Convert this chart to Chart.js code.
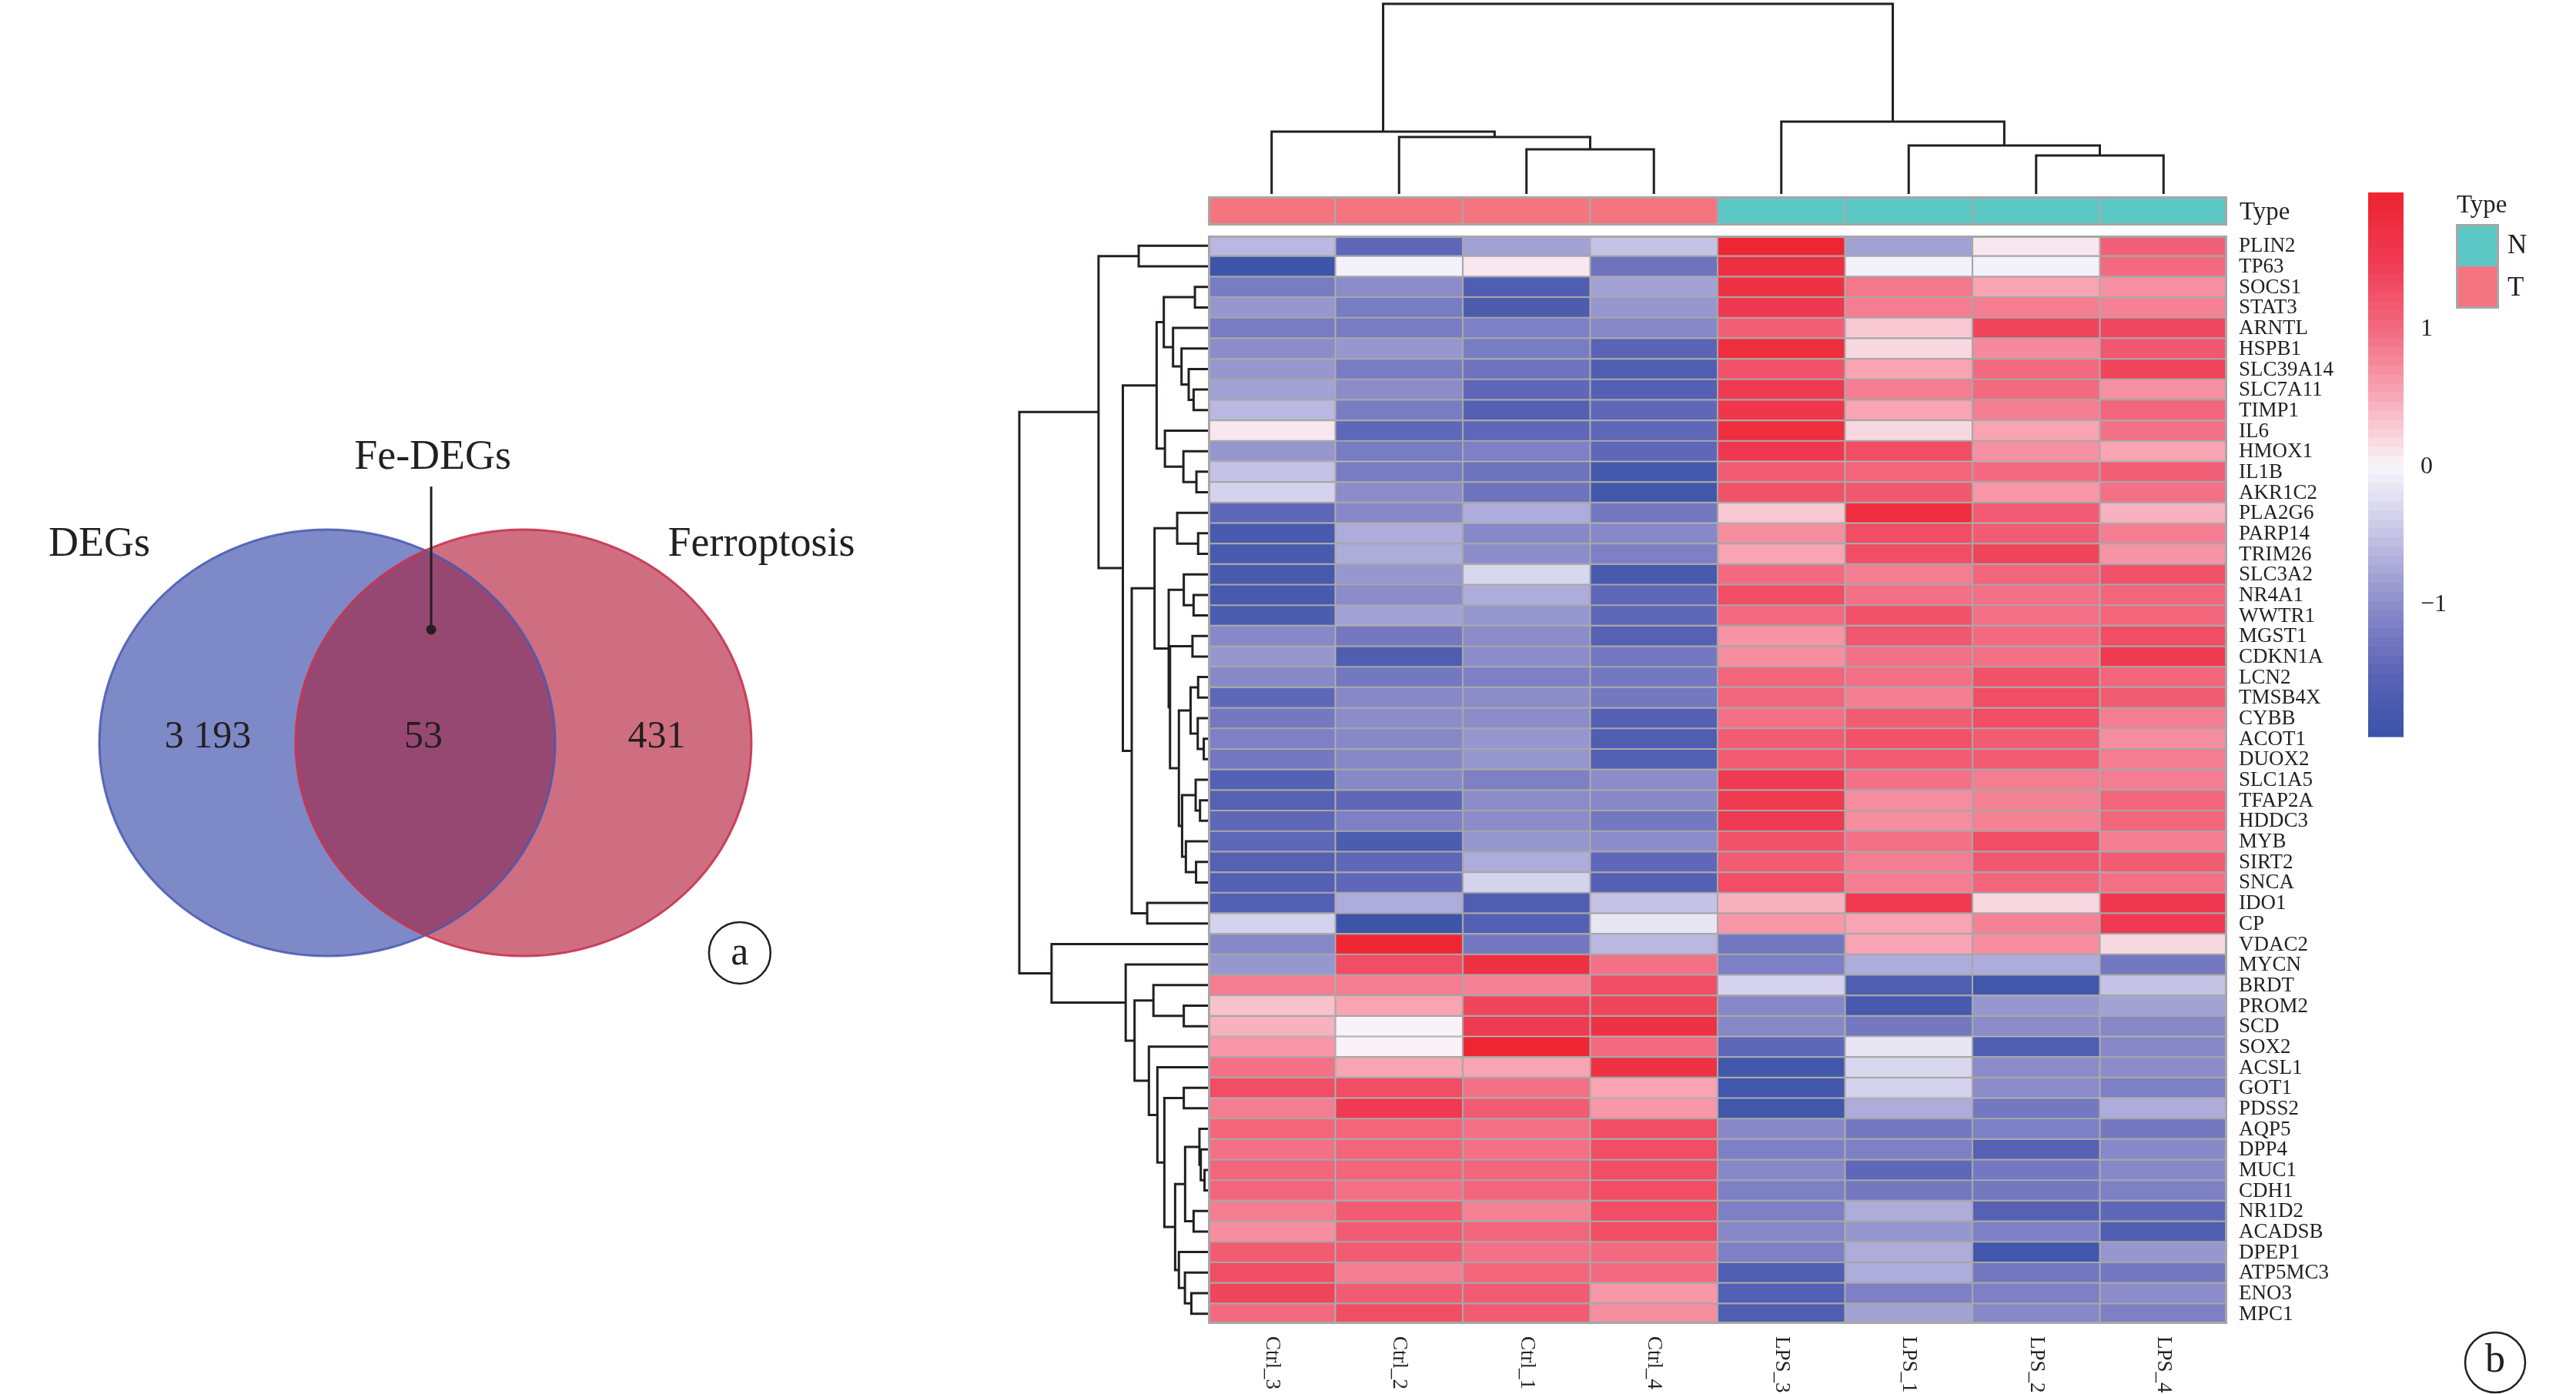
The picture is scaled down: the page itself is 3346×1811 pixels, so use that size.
<!DOCTYPE html>
<html>
<head>
<meta charset="utf-8">
<script src="https://cdn.jsdelivr.net/npm/chart.js@4.4.1/dist/chart.umd.min.js"></script>
<style>
html,body{margin:0;padding:0;background:#ffffff;}
body{width:3346px;height:1811px;position:relative;overflow:hidden;}
canvas{position:absolute;}
</style>
</head>
<body>
<canvas id="venn" width="1150" height="1000" style="left:0px;top:400px;"></canvas>
<canvas id="coldend" width="1344" height="262" style="left:1559px;top:0px;"></canvas>
<canvas id="rowdend" width="280" height="1434" style="left:1300px;top:296px;"></canvas>
<canvas id="annot" width="1441" height="58" style="left:1559px;top:245px;"></canvas>
<canvas id="heat" width="1787" height="1515" style="left:1559px;top:296px;"></canvas>
<canvas id="cbar" width="306" height="810" style="left:3040px;top:200px;"></canvas>
<script>
// ---------------- DATA ----------------
// Venn diagram
const vennSets = ['DEGs', 'Ferroptosis'];
const vennCounts = [3193, 53, 431];      // DEGs only, both, Ferroptosis only
const vennIntersectName = 'Fe-DEGs';

// Heatmap
const samples = ['Ctrl_3','Ctrl_2','Ctrl_1','Ctrl_4','LPS_3','LPS_1','LPS_2','LPS_4'];
const sampleType = ['T','T','T','T','N','N','N','N'];
const typeLevels = ['N','T'];
const genes = ['PLIN2','TP63','SOCS1','STAT3','ARNTL','HSPB1','SLC39A14','SLC7A11','TIMP1','IL6',
 'HMOX1','IL1B','AKR1C2','PLA2G6','PARP14','TRIM26','SLC3A2','NR4A1','WWTR1','MGST1',
 'CDKN1A','LCN2','TMSB4X','CYBB','ACOT1','DUOX2','SLC1A5','TFAP2A','HDDC3','MYB',
 'SIRT2','SNCA','IDO1','CP','VDAC2','MYCN','BRDT','PROM2','SCD','SOX2',
 'ACSL1','GOT1','PDSS2','AQP5','DPP4','MUC1','CDH1','NR1D2','ACADSB','DPEP1',
 'ATP5MC3','ENO3','MPC1'];

const ctrl3 = [-0.6,-1.9,-1.2,-0.9,-1.2,-1.0,-0.9,-0.8,-0.6,0.1,-0.9,-0.5,-0.35,-1.45,-1.75,-1.75,-1.75,-1.75,-1.7,-1.05,-0.9,-1.05,-1.45,-1.25,-1.15,-1.25,-1.6,-1.55,-1.45,-1.45,-1.55,-1.6,-1.6,-0.35,-1.05,-0.9,0.85,0.35,0.45,0.65,0.95,1.3,0.85,1.05,0.95,1.05,1.05,0.85,0.72,1.15,1.3,1.4,1.0];
const ctrl2 = [-1.45,-0.05,-1.0,-1.2,-1.2,-0.9,-1.2,-1.0,-1.2,-1.45,-1.2,-1.2,-1.0,-1.05,-0.7,-0.7,-0.9,-1.0,-0.8,-1.25,-1.65,-1.25,-1.05,-1.0,-1.05,-1.05,-1.05,-1.45,-1.15,-1.7,-1.45,-1.45,-0.7,-1.9,1.95,1.3,0.85,0.55,0.03,0.03,0.55,1.3,1.5,1.05,1.05,1.05,0.95,1.15,1.15,1.15,0.85,1.15,1.3];
const ctrl1 = [-0.8,0.1,-1.65,-1.7,-1.15,-1.2,-1.3,-1.45,-1.6,-1.45,-1.15,-1.3,-1.3,-0.7,-1.05,-1.0,-0.3,-0.7,-0.9,-1.0,-1.0,-1.15,-1.0,-1.0,-0.9,-0.9,-1.15,-1.0,-1.0,-0.9,-0.7,-0.35,-1.65,-1.6,-1.25,1.7,0.82,1.4,1.5,1.95,0.55,0.95,1.15,0.95,0.95,1.05,1.05,0.82,1.05,0.95,1.05,1.15,1.15];
const ctrl4 = [-0.5,-1.3,-0.8,-0.9,-1.05,-1.5,-1.65,-1.6,-1.45,-1.45,-1.45,-1.8,-1.85,-1.25,-1.05,-1.15,-1.75,-1.45,-1.45,-1.55,-1.25,-1.25,-1.25,-1.6,-1.65,-1.6,-1.0,-1.05,-1.25,-1.0,-1.45,-1.6,-0.5,-0.15,-0.6,0.95,1.3,1.4,1.7,1.0,1.7,0.55,0.65,1.3,1.3,1.3,1.3,1.3,1.3,1.0,1.0,0.65,0.72];
const lps3 = [1.95,1.75,1.7,1.55,1.1,1.8,1.25,1.5,1.6,1.8,1.55,1.15,1.25,0.3,0.72,0.55,1.0,1.3,1.0,0.68,0.72,1.05,1.05,0.95,1.15,1.15,1.5,1.5,1.5,1.25,1.15,1.3,0.45,0.65,-1.25,-1.15,-0.35,-1.05,-1.05,-1.45,-1.85,-1.85,-1.85,-1.05,-1.15,-1.05,-1.15,-1.15,-1.05,-1.15,-1.65,-1.6,-1.65];
const lps1 = [-0.8,-0.05,0.9,0.85,0.3,0.2,0.55,0.85,0.55,0.2,1.3,1.05,1.2,1.8,1.3,1.3,0.85,0.95,1.25,1.2,0.95,0.95,0.85,1.15,1.25,1.15,0.95,0.72,0.72,0.95,0.85,0.85,1.5,0.55,0.55,-0.7,-1.65,-1.75,-1.25,-0.15,-0.3,-0.35,-0.7,-1.25,-1.15,-1.45,-1.25,-0.7,-0.9,-0.7,-0.7,-1.15,-0.8];
const lps2 = [0.1,-0.05,0.55,0.85,1.4,0.75,1.0,1.0,0.85,0.55,0.7,1.0,0.65,1.15,1.15,1.4,1.05,0.95,0.95,1.0,0.95,1.25,1.3,1.3,1.15,1.15,0.85,0.82,0.82,1.3,1.2,1.05,0.2,0.82,0.72,-0.7,-1.85,-0.9,-1.0,-1.65,-1.0,-1.0,-1.25,-1.15,-1.55,-1.25,-1.25,-1.55,-1.15,-1.85,-1.25,-1.15,-1.05];
const lps4 = [1.1,1.0,0.7,0.82,1.35,1.2,1.4,0.7,1.05,0.95,0.55,1.1,0.95,0.45,0.85,0.68,1.25,1.05,1.05,1.3,1.5,1.05,1.15,0.85,0.72,0.85,0.85,1.05,1.05,0.85,1.15,0.95,1.55,1.5,0.2,-1.25,-0.5,-0.8,-1.05,-1.05,-1.0,-1.15,-0.7,-1.25,-1.05,-1.05,-1.15,-1.45,-1.65,-0.9,-1.25,-1.0,-1.15];
const sampleSeries = [ctrl3, ctrl2, ctrl1, ctrl4, lps3, lps1, lps2, lps4];

// colour key range and ticks
const keyMin = -1.96, keyMax = 1.99;
const keyTicks = [-1, 0, 1];

// dendrograms: [height, left, right]; numbers are leaf indices
const colTree = [100, [32.8, 0, [30.0, 1, [23.5, 2, 3]]], [38.1, 4, [25.5, 5, [20.2, 6, 7]]]];
const rowTree =
[100,
  [58.0,
    [36.7, 0, 1],
    [45.1,
      [27.2,
        [23.4, [6.9, 2, 3], [18.5, 4, [14.0, 5, [10.2, 6, [7.6, 7, 8]]]]],
        [22.8, 9, [13.0, 10, [6.1, 11, 12]]]
      ],
      [40.4,
        [28.3,
          [16.3, 13, [5.2, 14, 15]],
          [20.8,
            [12.8, 16, [7.6, 17, 18]],
            [20.1,
              [8.2, 19, 20],
              [15.4,
                [9.2, [5.2, 21, 22], [5.4, 23, [2.2, 24, 25]]],
                [13.7, [6.5, 26, [4.2, 27, 28]], [11.7, 29, [6.3, 30, 31]]]
              ]
            ]
          ]
        ],
        [32.2, 32, 33]
      ]
    ]
  ],
  [82.9, 34,
    [43.6, 35,
      [38.9,
        [28.9, 36, [12.8, 37, 38]],
        [31.3, 39,
          [26.8, 40,
            [23.1,
              [12.8, 41, 42],
              [17.4,
                [12.1, [4.5, 43, [3.8, 44, [1.8, 45, 46]]], [7.6, 47, 48]],
                [15.4, 49, [12.2, 50, [8.8, 51, 52]]]
              ]
            ]
          ]
        ]
      ]
    ]
  ]
];

// ---------------- STYLE ----------------
const FONT = "'Liberation Serif','Times New Roman',serif";
const INK = '#231F20';
const GRID = '#A7A7A7';
const typeColors = {N: '#5CC8C5', T: '#F47480'};
const keyStops = [[-1.96,[57,83,167]],[-1.5,[90,99,182]],[-1.0,[140,140,202]],[-0.5,[197,194,229]],
  [0,[248,246,251]],[0.5,[248,170,184]],[1.0,[243,106,128]],[1.5,[239,58,82]],[1.99,[238,36,48]]];

function colorFor(v){
  if (v <= keyStops[0][0]) return 'rgb(' + keyStops[0][1].join(',') + ')';
  for (let k = 1; k < keyStops.length; k++){
    const [v1, c1] = keyStops[k];
    if (v <= v1){
      const [v0, c0] = keyStops[k-1];
      const t = (v - v0) / (v1 - v0);
      const c = c0.map((a, j) => Math.round(a + (c1[j] - a) * t));
      return 'rgb(' + c.join(',') + ')';
    }
  }
  return 'rgb(' + keyStops[keyStops.length-1][1].join(',') + ')';
}

function baseOptions(extra){
  return Object.assign({
    responsive:false, animation:false, devicePixelRatio:1, events:[],
    plugins:{legend:{display:false}, tooltip:{enabled:false}}
  }, extra);
}

function layoutTree(node, leafPos, segs){
  if (typeof node === 'number') return {pos: leafPos(node), h: 0};
  const [h, a, b] = node;
  const A = layoutTree(a, leafPos, segs), B = layoutTree(b, leafPos, segs);
  segs.push([[A.h, A.pos],[h, A.pos],[h, B.pos],[B.h, B.pos]]);
  return {pos: (A.pos + B.pos) / 2, h: h};
}
function lineDs(points){
  return {data: points, showLine:true, pointRadius:0, borderColor:INK, borderWidth:3,
          tension:0, clip:false, borderJoinStyle:'miter', borderCapStyle:'butt'};
}
function fmtCount(n){ return String(n).replace(/\B(?=(\d{3})+(?!\d))/g, ' '); }

// ---------------- VENN ----------------
const vennCenters = [0, 0.861];
new Chart(document.getElementById('venn'), {
  type:'scatter', data:{datasets:[]},
  options: baseOptions({layout:{padding:0},
    scales:{x:{display:false, min:-1.436, max:2.449}, y:{display:false, min:-1.570, max:2.040}}}),
  plugins:[{id:'venn', afterDraw(chart){
    const c = chart.ctx, xs = chart.scales.x, ys = chart.scales.y;
    const px = v => xs.getPixelForValue(v), py = v => ys.getPixelForValue(v);
    const rx = px(1) - px(0), ry = py(0) - py(1);
    const L = {x:px(vennCenters[0]), y:py(0)}, R = {x:px(vennCenters[1]), y:py(0)};
    const ell = p => { c.beginPath(); c.ellipse(p.x, p.y, rx, ry, 0, 0, Math.PI*2); };
    c.save();
    ell(L); c.fillStyle = '#7E89C7'; c.fill();
    ell(R); c.fillStyle = '#CF6E80'; c.fill();
    c.save(); ell(L); c.clip(); ell(R); c.fillStyle = '#974872'; c.fill(); c.restore();
    c.lineWidth = 3;
    ell(L); c.strokeStyle = 'rgba(70,88,178,0.85)'; c.stroke();
    ell(R); c.strokeStyle = 'rgba(200,52,80,0.9)'; c.stroke();
    c.fillStyle = INK; c.textAlign = 'center'; c.textBaseline = 'middle';
    c.font = '50px ' + FONT;
    c.fillText(fmtCount(vennCounts[0]), px(-0.524), py(0.025));
    c.fillText(fmtCount(vennCounts[1]), px(0.422), py(0.025));
    c.fillText(fmtCount(vennCounts[2]), px(1.446), py(0.025));
    c.font = '54px ' + FONT;
    c.fillText(vennSets[0], px(-1.0), py(0.93));
    c.fillText(vennSets[1], px(1.905), py(0.93));
    c.fillText(vennIntersectName, px(0.463), py(1.335));
    // pointer line
    c.strokeStyle = INK; c.lineWidth = 3;
    c.beginPath(); c.moveTo(px(0.456), py(1.202)); c.lineTo(px(0.456), py(0.531)); c.stroke();
    c.beginPath(); c.arc(px(0.456), py(0.531), 6.5, 0, Math.PI*2); c.fill();
    // panel letter
    c.lineWidth = 2.5;
    c.beginPath(); c.arc(px(1.81), py(-0.985), 0.135*rx, 0, Math.PI*2); c.stroke();
    c.font = '52px ' + FONT;
    c.fillText('a', px(1.81), py(-0.99));
    c.restore();
  }}]
});

// ---------------- COLUMN DENDROGRAM ----------------
(function(){
  const segs = [];
  layoutTree(colTree, i => i, segs);
  new Chart(document.getElementById('coldend'), {
    type:'scatter',
    data:{datasets: segs.map(s => lineDs(s.map(([h,p]) => ({x:p, y:h}))))},
    options: baseOptions({layout:{padding:{left:10, right:10, top:5, bottom:10}},
      scales:{x:{type:'linear', display:false, min:-0.5, max:samples.length-0.5},
              y:{type:'linear', display:false, min:0, max:100}}})
  });
})();

// ---------------- ROW DENDROGRAM ----------------
(function(){
  const segs = [];
  layoutTree(rowTree, i => i + 0.5, segs);
  new Chart(document.getElementById('rowdend'), {
    type:'scatter',
    data:{datasets: segs.map(s => lineDs(s.map(([h,p]) => ({x:h, y:p}))))},
    options: baseOptions({layout:{padding:{left:24, right:11, top:10, bottom:10}},
      scales:{x:{type:'linear', display:false, min:0, max:100, reverse:true},
              y:{type:'linear', display:false, min:0, max:genes.length, reverse:true}}})
  });
})();

// ---------------- ANNOTATION BAR ----------------
new Chart(document.getElementById('annot'), {
  type:'bar',
  data:{labels:samples, datasets:[{data:samples.map(() => 1),
    backgroundColor: sampleType.map(t => typeColors[t]),
    borderColor:GRID, borderWidth:1.4, borderSkipped:false,
    categoryPercentage:1, barPercentage:1}]},
  options: baseOptions({layout:{padding:{left:10, right:107, top:10, bottom:10}},
    scales:{x:{display:false}, y:{display:false, min:0, max:1}}}),
  plugins:[{id:'annotFrame', afterDraw(chart){
    const c = chart.ctx, a = chart.chartArea;
    c.save();
    c.strokeStyle = GRID; c.lineWidth = 3;
    c.strokeRect(a.left + 1.5, a.top + 1.5, a.right - a.left - 3, a.bottom - a.top - 3);
    c.fillStyle = INK; c.font = '33px ' + FONT; c.textAlign = 'left'; c.textBaseline = 'middle';
    c.fillText('Type', a.right + 16, (a.top + a.bottom) / 2 + 2);
    c.restore();
  }}]
});

// ---------------- HEATMAP ----------------
new Chart(document.getElementById('heat'), {
  type:'bar',
  data:{labels:samples, datasets: genes.map((g, i) => ({
    label:g, data: samples.map(() => 1),
    backgroundColor: sampleSeries.map(s => colorFor(s[i])),
    borderColor:GRID, borderWidth:1.4, borderSkipped:false,
    categoryPercentage:1, barPercentage:1, stack:'cells'}))},
  options: baseOptions({layout:{padding:{left:10, right:453, top:10, bottom:91}},
    scales:{x:{display:false, stacked:true},
            y:{display:false, stacked:true, min:0, max:genes.length, reverse:true}}}),
  plugins:[{id:'heatText', afterDraw(chart){
    const c = chart.ctx, a = chart.chartArea, xs = chart.scales.x, ys = chart.scales.y;
    c.save();
    c.strokeStyle = GRID; c.lineWidth = 3;
    c.strokeRect(a.left + 1.5, a.top + 1.5, a.right - a.left - 3, a.bottom - a.top - 3);
    c.fillStyle = INK; c.font = '27px ' + FONT; c.textBaseline = 'middle'; c.textAlign = 'left';
    genes.forEach((g, i) => c.fillText(g, a.right + 15, ys.getPixelForValue(i + 0.5) + 1));
    samples.forEach((s, i) => {
      c.save();
      c.translate(xs.getPixelForValue(i), a.bottom + 16);
      c.rotate(Math.PI / 2);
      c.fillText(s, 0, 0);
      c.restore();
    });
    // panel letter
    c.strokeStyle = INK; c.lineWidth = 2.5;
    const bx = a.right + 348, by = a.bottom + 50;
    c.beginPath(); c.arc(bx, by, 39, 0, Math.PI*2); c.stroke();
    c.font = '52px ' + FONT; c.textAlign = 'center';
    c.fillText('b', bx, by - 2);
    c.restore();
  }}]
});

// ---------------- COLOUR KEY + LEGEND ----------------
new Chart(document.getElementById('cbar'), {
  type:'scatter', data:{datasets:[]},
  options: baseOptions({layout:{padding:{left:36, right:224, top:50, bottom:53}},
    scales:{x:{display:false, min:0, max:1}, y:{display:false, min:keyMin, max:keyMax}}}),
  plugins:[{id:'key', afterDraw(chart){
    const c = chart.ctx, a = chart.chartArea, ys = chart.scales.y;
    c.save();
    const n = 60;
    for (let k = 0; k < n; k++){
      const v0 = keyMin + (keyMax - keyMin) * k / n, v1 = keyMin + (keyMax - keyMin) * (k + 1) / n;
      const y0 = ys.getPixelForValue(v0), y1 = ys.getPixelForValue(v1);
      c.fillStyle = colorFor((v0 + v1) / 2);
      c.fillRect(a.left, y1, a.right - a.left, y0 - y1 + 0.6);
    }
    c.fillStyle = INK; c.font = '32px ' + FONT; c.textAlign = 'left'; c.textBaseline = 'middle';
    keyTicks.forEach(t => c.fillText(t < 0 ? '\u2212' + Math.abs(t) : String(t), a.right + 22, ys.getPixelForValue(t)));
    // Type legend
    const lx = a.right + 68, bw = 56, bh = 55, ly = a.top + 41;
    c.font = '33px ' + FONT;
    c.fillText('Type', lx + 1, ly - 24);
    typeLevels.forEach((t, i) => {
      c.fillStyle = typeColors[t];
      c.fillRect(lx, ly + i * bh, bw, bh);
      c.fillStyle = INK; c.font = '35px ' + FONT;
      c.fillText(t, lx + bw + 11, ly + i * bh + bh / 2 + 1);
    });
    c.strokeStyle = GRID; c.lineWidth = 3;
    c.strokeRect(lx + 1.5, ly + 1.5, bw - 3, bh * typeLevels.length - 3);
    c.beginPath(); c.moveTo(lx, ly + bh); c.lineTo(lx + bw, ly + bh); c.lineWidth = 1.5; c.stroke();
    c.restore();
  }}]
});
</script>
</body>
</html>
